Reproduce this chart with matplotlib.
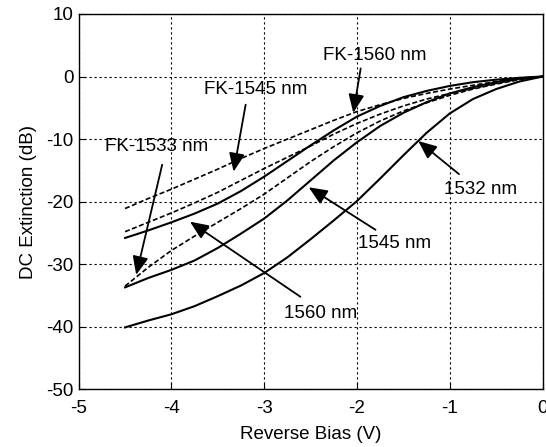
import matplotlib
matplotlib.use('Agg')
import matplotlib.pyplot as plt

plt.rcParams['font.family'] = ['Liberation Sans', 'DejaVu Sans']
plt.rcParams['axes.unicode_minus'] = False

# reverse bias (V)
bias = [-4.5, -4.25, -4.0, -3.75, -3.5, -3.25, -3.0, -2.75, -2.5, -2.25,
        -2.0, -1.75, -1.5, -1.25, -1.0, -0.75, -0.5, -0.25, 0.0]

# measured extinction (dB), solid
ext_1532 = [-40.1, -39.0, -38.0, -36.7, -35.1, -33.4, -31.4, -28.9, -26.0, -23.0,
            -19.9, -16.3, -12.6, -9.0, -5.9, -3.6, -2.0, -0.8, 0.0]
ext_1545 = [-33.7, -32.2, -30.9, -29.4, -27.4, -25.1, -22.7, -19.8, -16.6, -13.4,
            -10.5, -7.9, -5.8, -4.1, -2.7, -1.7, -0.9, -0.3, 0.0]
ext_1560 = [-25.8, -24.6, -23.3, -21.9, -20.3, -18.3, -16.0, -13.5, -11.0, -8.6,
            -6.4, -4.7, -3.3, -2.3, -1.5, -0.9, -0.5, -0.2, 0.0]

# Franz-Keldysh model (dB), dashed
fk_1560 = [-21.1, -19.5, -18.0, -16.4, -14.8, -13.1, -11.5, -10.0, -8.5, -7.0,
           -5.6, -4.5, -3.5, -2.7, -2.0, -1.4, -0.8, -0.3, 0.0]
fk_1545 = [-24.8, -23.3, -21.8, -20.2, -18.5, -16.6, -14.7, -12.9, -11.1, -9.2,
           -7.5, -6.0, -4.7, -3.6, -2.7, -1.9, -1.1, -0.4, 0.0]
fk_1533 = [-33.5, -30.5, -27.8, -25.5, -23.3, -21.1, -18.8, -16.2, -13.6, -11.2,
           -9.0, -7.1, -5.5, -4.2, -3.0, -2.0, -1.2, -0.5, 0.0]

# label text, text position, arrow tail, arrow head
labels = ['FK-1560 nm', 'FK-1545 nm', 'FK-1533 nm', '1532 nm', '1545 nm', '1560 nm']
text_xy = [(-1.81, 3.3), (-3.09, -2.0), (-4.16, -11.2), (-0.67, -18.1), (-1.59, -26.7), (-2.39, -37.8)]
tail_xy = [(-1.96, 1.3), (-3.20, -4.5), (-4.10, -14.1), (-0.90, -15.6), (-1.80, -24.5), (-2.61, -35.2)]
head_xy = [(-2.04, -5.8), (-3.33, -15.2), (-4.38, -31.7), (-1.34, -10.3), (-2.52, -17.7), (-3.80, -23.2)]

fig = plt.figure(figsize=(5.46, 4.47), dpi=100)
ax = fig.add_axes([0.1441, 0.129, 0.8495, 0.8397])

for y in [ext_1532, ext_1545, ext_1560]:
    ax.plot(bias, y, color='k', lw=1.5)
for y in [fk_1560, fk_1545, fk_1533]:
    ax.plot(bias, y, color='k', lw=1.2, dashes=(3, 1.5))

for lab, t, a, h in zip(labels, text_xy, tail_xy, head_xy):
    ax.text(t[0], t[1], lab, fontsize=13.5, ha='center', va='center')
    ax.annotate('', xy=h, xytext=a,
                arrowprops=dict(arrowstyle='-|>,head_width=0.3,head_length=0.7', color='k',
                                lw=1.3, mutation_scale=16, shrinkA=0, shrinkB=0))

ax.set_xlim(-5, 0)
ax.set_ylim(-50, 10)
ax.set_xticks([-5, -4, -3, -2, -1, 0])
ax.set_yticks([-50, -40, -30, -20, -10, 0, 10])
ax.grid(True, color='k', lw=0.8, linestyle=(0, (2, 2.5)))
ax.tick_params(direction='in', length=4, labelsize=13.5)
ax.tick_params(axis='x', pad=8)
for s in ax.spines.values():
    s.set_linewidth(1.0)

ax.set_xlabel('Reverse Bias (V)', fontsize=13.5, labelpad=6)
ax.set_ylabel('DC Extinction (dB)', fontsize=13.5, labelpad=7)

fig.savefig('out.png', dpi=100)
